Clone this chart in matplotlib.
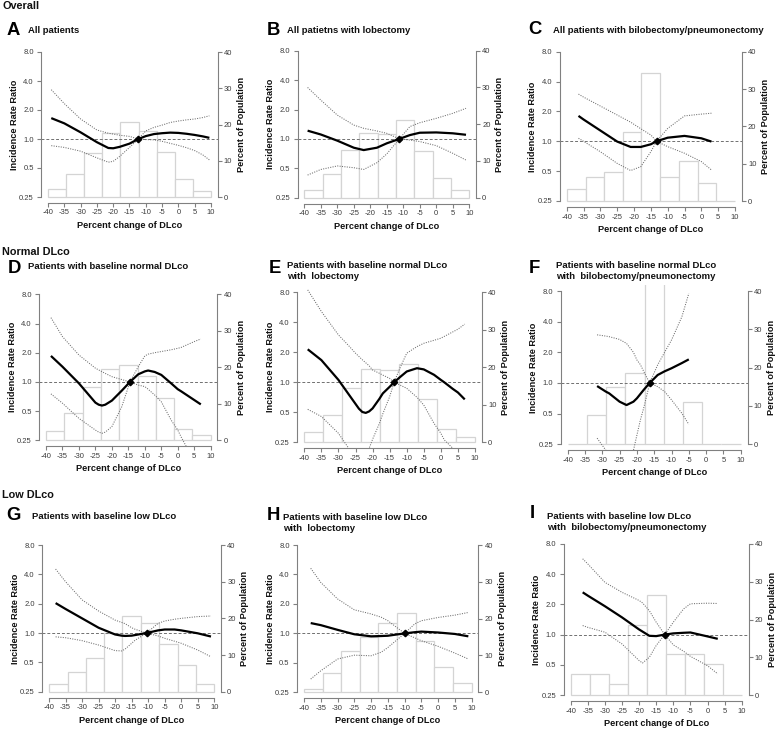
import numpy as np
import matplotlib
matplotlib.use('Agg')
import matplotlib.pyplot as plt

plt.rcParams['font.family'] = ['Liberation Sans', 'DejaVu Sans']

# ---------------- data ----------------
bin_edges = [-40, -34.4, -28.9, -23.3, -17.8, -12.2, -6.7, -1.1, 4.4, 10]
x_ticks = [-40, -35, -30, -25, -20, -15, -10, -5, 0, 5, 10]
x_tick_labels = ['-40', '-35', '-30', '-25', '-20', '-15', '-10', '-5', '0', '5', '10']
irr_ticks = [0.25, 0.5, 1, 2, 4, 8]
irr_tick_labels = ['0.25', '0.5', '1.0', '2.0', '4.0', '8.0']
pct_ticks = [0, 10, 20, 30, 40]

section_titles = ['Overall', 'Normal DLco', 'Low DLco']
panel_letters = ['A', 'B', 'C', 'D', 'E', 'F', 'G', 'H', 'I']
panel_titles = [
    ['All patients'],
    ['All patietns with lobectomy'],
    ['All patients with bilobectomy/pneumonectomy'],
    ['Patients with baseline normal DLco'],
    ['Patients with baseline normal DLco', 'with  lobectomy'],
    ['Patients with baseline normal DLco', 'with  bilobectomy/pneumonectomy'],
    ['Patients with baseline low DLco'],
    ['Patients with baseline low DLco', 'with  lobectomy'],
    ['Patients with baseline low DLco', 'with  bilobectomy/pneumonectomy'],
]
y_label = 'Incidence Rate Ratio'
y2_label = 'Percent of Population'
x_label = 'Percent change of DLco'

# Panel A (IRR values stored as log2 of the ratio)
a_pct = [2.2, 6.4, 12.1, 17.7, 20.6, 18.2, 12.4, 5.0, 1.6]
a_ref = -12.3
a_x = [-39, -35, -30, -25, -21.5, -20, -18, -15, -12.3, -10, -7.5, -5, -2.5, 0, 2.5, 5, 7.5, 9.5]
a_est = [0.72, 0.54, 0.23, -0.11, -0.31, -0.32, -0.27, -0.16, 0, 0.10, 0.17, 0.20, 0.22, 0.21, 0.18, 0.14, 0.09, 0.04]
a_hi = [1.70, 1.22, 0.69, 0.31, 0.20, 0.17, 0.13, 0.09, 0, 0.28, 0.40, 0.48, 0.57, 0.62, 0.66, 0.69, 0.74, 0.80]
a_lo = [-0.23, -0.29, -0.42, -0.65, -0.80, -0.77, -0.60, -0.29, 0, -0.02, -0.03, -0.08, -0.15, -0.22, -0.30, -0.40, -0.55, -0.72]

# Panel B
b_pct = [2.0, 6.4, 13.0, 17.7, 17.2, 21.1, 12.7, 5.3, 2.0]
b_ref = -11.2
b_x = [-39, -35, -30, -25, -22, -18, -15, -11.2, -8, -5, 0, 5, 9]
b_est = [0.28, 0.15, -0.06, -0.30, -0.38, -0.30, -0.15, 0, 0.13, 0.21, 0.22, 0.19, 0.14]
b_hi = [1.75, 1.32, 0.81, 0.47, 0.36, 0.27, 0.19, 0, 0.42, 0.55, 0.70, 0.87, 1.04]
b_lo = [-1.23, -1.04, -0.92, -0.98, -1.04, -0.81, -0.51, 0, -0.04, -0.09, -0.23, -0.49, -0.72]

# Panel C
c_pct = [3.1, 6.3, 7.9, 18.6, 34.2, 6.3, 10.8, 4.7, 0]
c_ref = -13.3
c_x = [-36.5, -35, -30, -25, -21, -18, -15, -13.3, -10, -5, 0, 3]
c_est = [0.85, 0.73, 0.36, -0.01, -0.19, -0.19, -0.10, 0, 0.12, 0.18, 0.10, -0.01]
c_hi = [1.58, 1.48, 1.18, 0.88, 0.64, 0.42, 0.21, 0, 0.43, 0.85, 0.91, 0.94]
c_lo = [0.10, 0.00, -0.35, -0.74, -0.98, -0.85, -0.35, 0, -0.18, -0.40, -0.68, -0.96]

# Panel D
d_pct = [2.6, 7.5, 14.7, 19.6, 20.6, 17.6, 11.5, 3.1, 1.4]
d_ref = -14.5
d_x = [-38.5, -35, -30, -25, -24, -23, -22, -20, -17, -14.5, -12, -10, -9, -7, -5, -2, 0, 1, 3, 5, 7]
d_est = [0.89, 0.52, -0.05, -0.71, -0.78, -0.81, -0.78, -0.64, -0.30, 0, 0.26, 0.36, 0.39, 0.34, 0.24, -0.05, -0.25, -0.32, -0.47, -0.62, -0.77]
d_hi = [2.20, 1.55, 0.92, 0.47, 0.41, 0.35, 0.29, 0.18, 0.08, 0, 0.52, 0.89, 0.95, 1.00, 1.04, 1.10, 1.15, 1.18, 1.28, 1.38, 1.47]
d_lo = [-0.41, -0.73, -1.25, -1.65, -1.72, -1.76, -1.72, -1.53, -0.85, 0, -0.11, -0.16, -0.25, -0.45, -0.68, -1.31, -1.65, -1.88, -2.3, -2.8, -3.3]

# Panel E
e_pct = [2.8, 7.3, 14.4, 19.5, 19.3, 20.8, 11.5, 3.5, 1.3]
e_ref = -13.7
e_x = [-39, -35, -30, -27, -25, -24, -23, -22, -21, -20, -18, -17, -15, -13.7, -12, -10, -7, -5, -2, 0, 1, 3.5, 5, 7]
e_est = [1.10, 0.74, 0.08, -0.40, -0.72, -0.88, -0.99, -1.02, -0.97, -0.87, -0.55, -0.37, -0.15, 0, 0.17, 0.36, 0.47, 0.43, 0.25, 0.08, 0.0, -0.22, -0.34, -0.57]
e_hi = [3.08, 2.36, 1.58, 1.22, 0.97, 0.86, 0.75, 0.65, 0.55, 0.41, 0.30, 0.24, 0.13, 0, 0.47, 0.97, 1.19, 1.30, 1.40, 1.47, 1.53, 1.68, 1.77, 1.94]
e_lo = [-0.90, -1.14, -1.70, -2.2, -2.8, -3.0, -3.2, -2.8, -2.2, -1.9, -1.37, -1.05, -0.48, 0, -0.09, -0.20, -0.50, -0.76, -1.37, -1.70, -1.92, -2.2, -2.6, -3.0]

# Panel F
f_pct = [0, 7.7, 14.9, 18.5, 47.8, 0, 11.1, 0, 0]
f_ref = -16.3
f_x = [-31.5, -29, -28, -25, -23, -21, -20, -19, -18, -17, -16.3, -14, -12, -10, -7, -5]
f_est = [-0.10, -0.28, -0.34, -0.61, -0.72, -0.61, -0.50, -0.36, -0.22, -0.09, 0, 0.26, 0.38, 0.48, 0.65, 0.77]
f_hi = [1.57, 1.53, 1.51, 1.42, 1.29, 1.00, 0.75, 0.60, 0.37, 0.15, 0, 0.59, 1.00, 1.40, 2.16, 2.92]
f_lo = [-1.80, -2.19, -2.5, -3.5, -3.2, -2.2, -1.70, -1.21, -0.80, -0.34, 0, -0.12, -0.28, -0.55, -0.99, -1.35]

# Panel G
g_pct = [2.0, 5.3, 9.1, 16.1, 20.6, 18.8, 12.9, 7.2, 2.0]
g_ref = -10.5
g_x = [-38, -35, -30, -25, -20, -18, -17, -15, -14, -10.5, -7, -5, -2, 0, 5, 9]
g_est = [1.02, 0.82, 0.50, 0.18, -0.05, -0.09, -0.10, -0.09, -0.07, 0, 0.09, 0.12, 0.12, 0.09, -0.01, -0.12]
g_hi = [2.18, 1.75, 1.13, 0.75, 0.44, 0.36, 0.32, 0.18, 0.13, 0, 0.33, 0.41, 0.47, 0.50, 0.56, 0.58]
g_lo = [-0.13, -0.16, -0.26, -0.41, -0.60, -0.61, -0.55, -0.35, -0.25, 0, -0.10, -0.18, -0.28, -0.35, -0.58, -0.81]

# Panel H
h_pct = [0.9, 5.2, 11.2, 15.1, 18.7, 21.4, 13.8, 6.8, 2.6]
h_ref = -10.0
h_x = [-38, -35, -30, -25, -20, -17, -15, -10, -7, -5, 0, 5, 9]
h_est = [0.35, 0.28, 0.12, -0.03, -0.10, -0.09, -0.08, 0, 0.04, 0.06, 0.03, -0.02, -0.10]
h_hi = [2.21, 1.73, 1.17, 0.80, 0.66, 0.55, 0.43, 0, 0.32, 0.43, 0.54, 0.62, 0.71]
h_lo = [-1.55, -1.27, -0.87, -0.74, -0.76, -0.64, -0.48, 0, -0.15, -0.25, -0.44, -0.67, -0.87]

# Panel I
i_pct = [5.5, 5.5, 2.8, 18.6, 26.5, 10.8, 10.8, 8.1, 0]
i_ref = -12.5
i_x = [-36.5, -35, -30, -25, -20, -19, -17, -15, -12.5, -10, -7, -5, 0, 3]
i_est = [1.40, 1.29, 0.94, 0.57, 0.17, 0.10, -0.04, -0.05, 0, 0.04, 0.06, 0.07, -0.06, -0.14]
i_hi = [2.51, 2.34, 1.73, 1.40, 1.13, 1.05, 0.79, 0.41, 0, 0.41, 0.85, 1.02, 1.04, 1.03]
i_lo = [0.30, 0.24, 0.08, -0.31, -0.86, -0.94, -0.75, -0.36, 0, -0.34, -0.55, -0.72, -1.03, -1.30]

panels = [
    (a_pct, a_ref, a_x, a_est, a_hi, a_lo),
    (b_pct, b_ref, b_x, b_est, b_hi, b_lo),
    (c_pct, c_ref, c_x, c_est, c_hi, c_lo),
    (d_pct, d_ref, d_x, d_est, d_hi, d_lo),
    (e_pct, e_ref, e_x, e_est, e_hi, e_lo),
    (f_pct, f_ref, f_x, f_est, f_hi, f_lo),
    (g_pct, g_ref, g_x, g_est, g_hi, g_lo),
    (h_pct, h_ref, h_x, h_est, h_hi, h_lo),
    (i_pct, i_ref, i_x, i_est, i_hi, i_lo),
]

# ---------------- layout (pixels) ----------------
W, H = 778, 731
# (x at -40, x at 10, y at IRR 8, y at IRR 0.25)
geom = [
    (48, 211, 52, 197), (304.3, 469.3, 50.7, 197.7), (566.7, 735, 51.7, 201),
    (46, 210.7, 294.3, 440.3), (304.3, 475, 292.3, 442.3), (567.7, 740.7, 291, 444.3),
    (49, 214.3, 545, 691.7), (304, 471.7, 545, 692.3), (570.7, 741.7, 544, 695),
]
letter_pos = [(7, 35), (266.7, 35), (528.3, 33.5), (7.3, 273.3), (268.3, 273.3),
              (528.3, 272.7), (6.7, 520), (266.7, 520), (530, 518.3)]
title_pos = [(28.3, 33.3), (286.7, 33.3), (552.7, 33), (28.3, 269.3), (287.3, 268.3),
             (555.7, 268.3), (31.7, 519.3), (283.3, 520), (547.3, 519)]
section_pos = [(2.5, 9), (1.7, 255), (1.7, 497.7)]

AX_COL = '#808080'
TXT_COL = '#3c3c3c'

fig = plt.figure(figsize=(W / 100, H / 100), dpi=100)
fig.patch.set_facecolor('white')


def fx(x):
    return x / W


def fy(y):
    return 1 - y / H


for k, (pct, ref, xs, est, hi, lo) in enumerate(panels):
    xm40, x10, y8, y025 = geom[k]
    sx = (x10 - xm40) / 50.0
    sy = (y025 - y8) / 5.0
    left = xm40 - 2 * sx
    right = x10 + 2 * sx
    top = y8 - 0.2 * sy
    bottom = y025 + 0.2 * sy
    ax = fig.add_axes([fx(left), fy(bottom), (right - left) / W, (bottom - top) / H])
    ax2 = ax.twinx()
    ax.set_zorder(ax2.get_zorder() + 1)
    ax.patch.set_visible(False)

    # histogram (percent of population)
    widths = np.diff(bin_edges)
    ax2.bar(bin_edges[:-1], pct, width=widths, align='edge', facecolor='white',
            edgecolor='#d4d4d4', linewidth=0.9)
    ax2.set_ylim(-1.6, 41.6)
    ax2.set_yticks(pct_ticks)
    ax2.set_yticklabels([str(t) for t in pct_ticks])

    # spline curves
    xs = np.array(xs)
    ax.axhline(1.0, color='#707070', lw=0.7, ls=(0, (3, 2)), zorder=1)
    ax.plot(xs, np.power(2.0, hi), color='#6e6e6e', lw=0.75, ls=(0, (1, 1.3)), zorder=2)
    ax.plot(xs, np.power(2.0, lo), color='#6e6e6e', lw=0.75, ls=(0, (1, 1.3)), zorder=2)
    ax.plot(xs, np.power(2.0, est), color='black', lw=1.6, zorder=3,
            solid_capstyle='butt', solid_joinstyle='round')
    ax.plot([ref], [1.0], marker='D', color='black', ms=3.3, zorder=4)

    ax.set_yscale('log', base=2)
    ax.set_ylim(2 ** -2.2, 2 ** 3.2)
    ax.set_xlim(-42, 12)
    ax.set_yticks(irr_ticks)
    ax.set_yticklabels(irr_tick_labels)
    ax.yaxis.set_minor_locator(matplotlib.ticker.NullLocator())
    ax.set_xticks(x_ticks)
    ax.set_xticklabels(x_tick_labels)

    for a in (ax, ax2):
        for s in a.spines.values():
            s.set_color(AX_COL)
            s.set_linewidth(0.8)
    ax.spines['top'].set_visible(False)
    ax.spines['right'].set_visible(False)
    ax2.spines['top'].set_visible(False)
    ax2.spines['left'].set_visible(False)
    ax2.spines['bottom'].set_visible(False)
    ax.spines['left'].set_bounds(0.25, 8)
    ax.spines['bottom'].set_bounds(-40, 10)
    ax2.spines['right'].set_bounds(0, 40)

    ax.tick_params(axis='y', length=3, width=0.8, color=AX_COL, labelsize=5.5,
                   labelcolor=TXT_COL, pad=2.5)
    ax.tick_params(axis='x', length=3, width=0.8, color=AX_COL, labelsize=5.5,
                   labelcolor=TXT_COL, pad=1.8)
    ax2.tick_params(axis='y', length=3, width=0.8, color=AX_COL, labelsize=5.5,
                    labelcolor=TXT_COL, pad=1.5)

    # axis titles
    axline_y = bottom
    fig.text(fx(left - 27), fy((y8 + y025) / 2), y_label, rotation=90, ha='center',
             va='center', fontsize=6.6, fontweight='bold', color='#111111')
    fig.text(fx(right + 24), fy((y8 + y025) / 2), y2_label, rotation=90, ha='center',
             va='center', fontsize=6.6, fontweight='bold', color='#111111')
    fig.text(fx((xm40 + x10) / 2), fy(axline_y + 25), x_label, ha='center',
             va='baseline', fontsize=6.6, fontweight='bold', color='#111111')

    # panel letter and title
    lx, ly = letter_pos[k]
    fig.text(fx(lx), fy(ly), panel_letters[k], ha='left', va='baseline',
             fontsize=13.3, fontweight='bold', color='black')
    tx, ty = title_pos[k]
    for j, line in enumerate(panel_titles[k]):
        fig.text(fx(tx), fy(ty + 11 * j), line, ha='left', va='baseline',
                 fontsize=6.8, fontweight='bold', color='#111111')

for s, (sxp, syp) in zip(section_titles, section_pos):
    fig.text(fx(sxp), fy(syp), s, ha='left', va='baseline', fontsize=7.8,
             fontweight='bold', color='#111111')

fig.savefig('out.png', dpi=100, facecolor='white')
